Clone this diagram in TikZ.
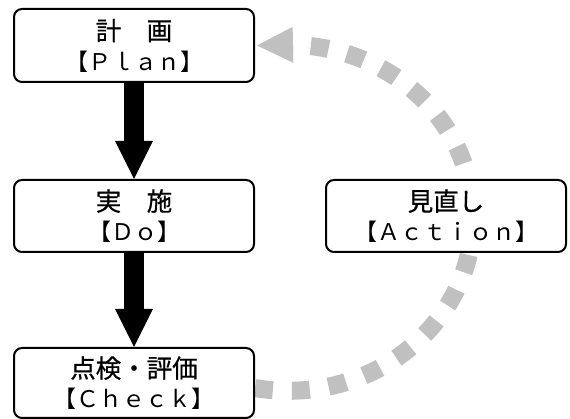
\documentclass[tikz,border=0pt]{standalone}
\usepackage{fontspec}
\newfontfamily\jp[FakeBold=0.6]{Noto Sans CJK JP}
\newfontfamily\jplat{Noto Sans CJK JP}
\usetikzlibrary{arrows.meta,backgrounds}
\definecolor{arcgray}{RGB}{192,192,192}
\tikzset{
  stagebox/.style={draw=black, line width=2pt, rounded corners=8pt, fill=white,
    minimum width=240pt, minimum height=72pt, inner sep=0pt, align=center,
    font=\jp\fontsize{25.5pt}{30pt}\selectfont},
  bigarrow/.style={line width=20pt, -{Triangle[length=38pt,width=38pt,line width=0pt]}},
  looparrow/.style={arcgray, line width=18pt, dash pattern=on 18pt off 19pt,
    -{Triangle[length=36pt,width=36pt,line width=0pt]}}
}
\newcommand{\ltn}{\jplat\fontsize{23pt}{30pt}\selectfont}
\begin{document}
\begin{tikzpicture}[x=1pt,y=1pt]
\useasboundingbox (0,0) rectangle (570,419);
\node[stagebox, minimum height=73pt] (plan) at (134,373.5) {計　画\\{\ltn 【Ｐｌａｎ】}};
\node[stagebox] (do) at (134,203) {実　施\\{\ltn 【Ｄｏ】}};
\node[stagebox, minimum height=70pt] (check) at (134,36) {点検・評価\\{\ltn 【Ｃｈｅｃｋ】}};
\node[stagebox] (action) at (446,203) {見直し\\{\ltn 【Ａｃｔｉｏｎ】}};
\draw[bigarrow] (plan.south) -- (do.north);
\draw[bigarrow] (do.south) -- (check.north);
\begin{scope}[on background layer]
\draw[looparrow] ([yshift=-5pt]check.east)
  arc[start angle=-100.3, end angle=88.8, x radius=185pt, y radius=173pt]
  -- ([xshift=2pt]plan.east);
\end{scope}
\end{tikzpicture}
\end{document}
